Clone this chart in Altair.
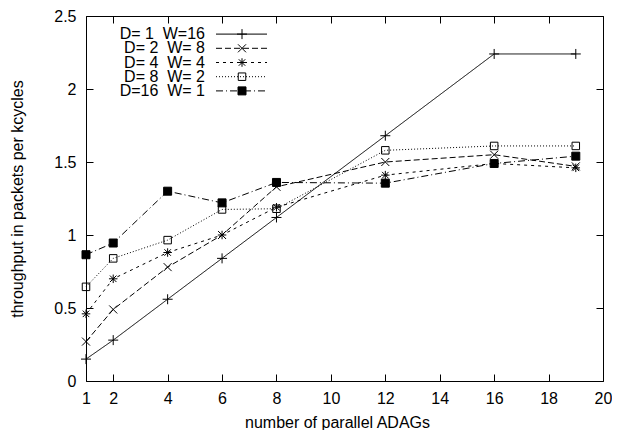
import altair as alt
import pandas as pd

# ---- data ----
x_vals = [1, 2, 4, 6, 8, 12, 16, 19]
series_names = [
    "D=\u00a01\u00a0\u00a0W=16",
    "D=\u00a02\u00a0\u00a0W=\u00a08",
    "D=\u00a04\u00a0\u00a0W=\u00a04",
    "D=\u00a08\u00a0\u00a0W=\u00a02",
    "D=16\u00a0\u00a0W=\u00a01",
]
s1 = [0.15, 0.28, 0.56, 0.84, 1.12, 1.68, 2.24, 2.24]
s2 = [0.27, 0.49, 0.78, 1.00, 1.33, 1.50, 1.55, 1.47]
s3 = [0.46, 0.70, 0.88, 1.00, 1.19, 1.41, 1.49, 1.46]
s4 = [0.645, 0.84, 0.965, 1.175, 1.18, 1.58, 1.61, 1.61]
s5 = [0.865, 0.945, 1.30, 1.22, 1.36, 1.355, 1.49, 1.54]
x_ticks = [1, 2, 4, 6, 8, 10, 12, 14, 16, 18, 20]
y_ticks = [0, 0.5, 1, 1.5, 2, 2.5]

rows = []
for name, vals in zip(series_names, [s1, s2, s3, s4, s5]):
    for xv, yv in zip(x_vals, vals):
        rows.append({"x": xv, "y": yv, "series": name})
df = pd.DataFrame(rows)
legend_df = pd.DataFrame({"series": series_names})

FONT = "Liberation Sans"

dash_scale = alt.Scale(domain=series_names,
                       range=[[1, 0], [6, 3], [3, 4], [1, 2], [7, 3, 1, 3]])
shape_scale = alt.Scale(domain=series_names, range=[
    "M-1,0L1,0M0,-1L0,1",
    "M-0.8,-0.8L0.8,0.8M-0.8,0.8L0.8,-0.8",
    "M-0.85,0L0.85,0M0,-0.85L0,0.85M-0.65,-0.65L0.65,0.65M-0.65,0.65L0.65,-0.65",
    "M-0.75,-0.75L0.75,-0.75L0.75,0.75L-0.75,0.75Z",
    "M-0.8,-0.8L0.8,-0.8L0.8,0.8L-0.8,0.8Z",
])
fill_scale = alt.Scale(domain=series_names,
                       range=["transparent", "transparent", "transparent", "transparent", "black"])

xscale = alt.Scale(domain=[1, 20], nice=False, zero=False)
yscale = alt.Scale(domain=[0, 2.5], nice=False)

lines = alt.Chart(df).mark_line(color="black", strokeWidth=1).encode(
    x=alt.X("x:Q", scale=xscale, axis=alt.Axis(
        orient="bottom", values=x_ticks, offset=-7, tickSize=7, domain=False,
        labelPadding=9, labelFlush=False, labelOverlap=False,
        title="number of parallel ADAGs", titleX=251, titleY=53,
        titleBaseline="alphabetic")),
    y=alt.Y("y:Q", scale=yscale, axis=alt.Axis(
        orient="left", values=y_ticks, offset=-7, tickSize=7, domain=False,
        labelPadding=10, labelFlush=False, labelOverlap=False,
        labelExpr="'' + datum.value",
        title="throughput in packets per kcycles", titleX=-71, titleY=182.5,
        titleBaseline="alphabetic", titleAngle=270)),
    strokeDash=alt.StrokeDash("series:N", scale=dash_scale, legend=None),
    detail="series:N",
)

points = alt.Chart(df).mark_point(filled=False, color="black", strokeWidth=1, size=100, opacity=1).encode(
    x=alt.X("x:Q", scale=xscale, axis=None),
    y=alt.Y("y:Q", scale=yscale, axis=None),
    shape=alt.Shape("series:N", scale=shape_scale, legend=None),
    fill=alt.Fill("series:N", scale=fill_scale, legend=None),
)

mirror = alt.Chart(df).mark_point(opacity=0).encode(
    x=alt.X("x:Q", scale=xscale, axis=alt.Axis(
        orient="top", values=x_ticks, offset=-7, tickSize=7, domain=False,
        labels=False, title=None)),
    y=alt.Y("y:Q", scale=yscale, axis=alt.Axis(
        orient="right", values=y_ticks, offset=-7, tickSize=7, domain=False,
        labels=False, title=None)),
)

main = alt.layer(lines, points, mirror).resolve_axis(x="independent", y="independent")

leg_y = alt.Y("series:N", scale=alt.Scale(domain=series_names, range=[11, 82], padding=0), axis=None)

leg_text = alt.Chart(legend_df).mark_text(
    align="right", baseline="middle", font=FONT, fontSize=16, color="black"
).encode(x=alt.value(119), y=leg_y, text="series:N")

leg_line = alt.Chart(legend_df).mark_rule(color="black", strokeWidth=1).encode(
    x=alt.value(130), x2=alt.value(181), y=leg_y,
    strokeDash=alt.StrokeDash("series:N", scale=dash_scale, legend=None),
)

leg_pt = alt.Chart(legend_df).mark_point(filled=False, color="black", strokeWidth=1, size=100, opacity=1).encode(
    x=alt.value(156), y=leg_y,
    shape=alt.Shape("series:N", scale=shape_scale, legend=None),
    fill=alt.Fill("series:N", scale=fill_scale, legend=None),
)

legend = alt.layer(leg_line, leg_pt, leg_text)

chart = alt.layer(main, legend).resolve_scale(y="independent").properties(
    width=517, height=365,
    autosize=alt.AutoSizeParams(type="none"),
    padding={"left": 78, "top": 8, "right": 9, "bottom": 49},
    background="white",
).configure_view(
    stroke="black", strokeWidth=1
).configure_axis(
    labelFont=FONT, labelFontSize=16, labelColor="black",
    titleFont=FONT, titleFontSize=16, titleFontWeight="normal", titleColor="black",
    tickColor="black", tickWidth=1, grid=False,
)

chart.save("out.html", embed_options={"renderer": "svg", "actions": False})
